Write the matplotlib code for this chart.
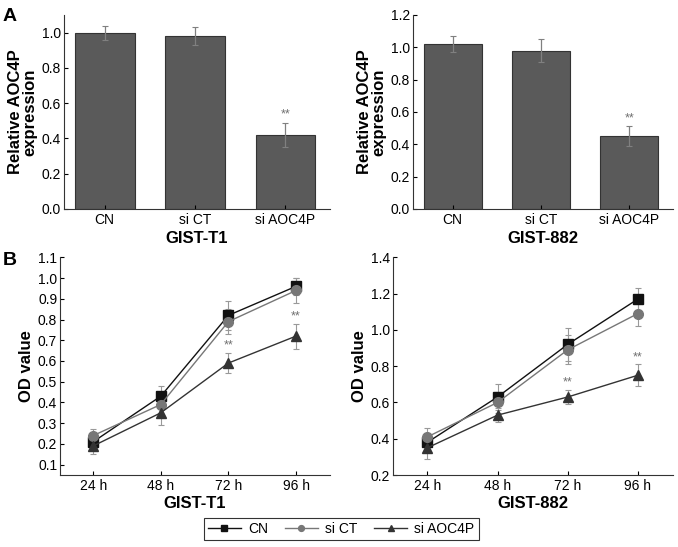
import numpy as np
import matplotlib
matplotlib.use('Agg')
import matplotlib.pyplot as plt

plt.rcParams['font.family'] = ['Liberation Sans', 'DejaVu Sans']

# panel A data
groups = ['CN', 'si CT', 'si AOC4P']
t1_expr = [1.00, 0.98, 0.42]
t1_expr_err = [0.04, 0.05, 0.07]
g882_expr = [1.02, 0.98, 0.45]
g882_expr_err = [0.05, 0.07, 0.06]

# panel B data
times = ['24 h', '48 h', '72 h', '96 h']
series_names = ['CN', 'si CT', 'si AOC4P']
t1_cn = [0.21, 0.43, 0.82, 0.96]
t1_cn_err = [0.03, 0.05, 0.07, 0.04]
t1_ct = [0.24, 0.39, 0.79, 0.94]
t1_ct_err = [0.03, 0.05, 0.06, 0.06]
t1_si = [0.19, 0.35, 0.59, 0.72]
t1_si_err = [0.04, 0.06, 0.05, 0.06]
g882_cn = [0.38, 0.63, 0.92, 1.17]
g882_cn_err = [0.05, 0.07, 0.09, 0.06]
g882_ct = [0.41, 0.60, 0.89, 1.09]
g882_ct_err = [0.05, 0.06, 0.08, 0.07]
g882_si = [0.35, 0.53, 0.63, 0.75]
g882_si_err = [0.06, 0.04, 0.04, 0.06]

fig = plt.figure(figsize=(6.78, 5.47), dpi=100)


def style(ax):
    ax.spines['top'].set_visible(False)
    ax.spines['right'].set_visible(False)
    ax.tick_params(labelsize=10, length=3, width=0.8, direction='in')
    ax.tick_params(axis='x', pad=3)
    ax.tick_params(axis='y', pad=2)
    for s in ['left', 'bottom']:
        ax.spines[s].set_linewidth(0.8)
        ax.spines[s].set_color('#333333')


def bar_panel(ax, vals, errs, ymax, yticks, title):
    x = np.arange(len(groups))
    ax.bar(x, vals, width=0.66, color='#5a5a5a', edgecolor='#333333', linewidth=0.8)
    ax.errorbar(x, vals, yerr=errs, fmt='none', ecolor='#808080', elinewidth=0.9,
                capsize=2.5, capthick=0.8)
    ax.text(x[2], vals[2] + errs[2] + 0.01, '**', ha='center', va='bottom',
            fontsize=9, color='#707070')
    ax.set_xlim(-0.45, 2.49)
    ax.set_ylim(0, ymax)
    ax.set_yticks(yticks)
    ax.set_yticklabels(['%.1f' % v for v in yticks])
    ax.set_xticks(x)
    ax.set_xticklabels(groups)
    ax.set_ylabel('Relative AOC4P\nexpression', fontsize=12, fontweight='bold',
                  labelpad=3, linespacing=1.0)
    ax.set_xlabel(title, fontsize=12, fontweight='bold', labelpad=3)
    style(ax)


def line_panel(ax, series, ylim, yticks, title):
    x = np.arange(len(times))
    specs = [('s', '#111111'), ('o', '#777777'), ('^', '#333333')]
    handles = []
    for (vals, errs), lab, (mk, col) in zip(series, series_names, specs):
        h = ax.errorbar(x, vals, yerr=errs, color=col, marker=mk, markersize=7,
                        linewidth=1.0, ecolor='#999999', elinewidth=0.8, capsize=2,
                        capthick=0.8)
        handles.append(h.lines[0])
    si_vals, si_errs = series[2]
    for i in [2, 3]:
        ax.text(x[i], si_vals[i] + si_errs[i] + 0.005, '**', ha='center', va='bottom',
                fontsize=9, color='#707070')
    ax.set_xlim(-0.49, 3.5)
    ax.set_ylim(*ylim)
    ax.set_yticks(yticks)
    ax.set_yticklabels(['%.1f' % v for v in yticks])
    ax.set_xticks(x)
    ax.set_xticklabels(times)
    ax.set_ylabel('OD value', fontsize=12, fontweight='bold', labelpad=3)
    ax.set_xlabel(title, fontsize=12, fontweight='bold', labelpad=2)
    style(ax)
    return handles


ax1 = fig.add_axes([0.0944, 0.618, 0.392, 0.3547])
bar_panel(ax1, t1_expr, t1_expr_err, 1.1, np.arange(0, 1.01, 0.2), 'GIST-T1')

ax2 = fig.add_axes([0.609, 0.618, 0.383, 0.3547])
bar_panel(ax2, g882_expr, g882_expr_err, 1.2, np.arange(0, 1.21, 0.2), 'GIST-882')

ax3 = fig.add_axes([0.0885, 0.1316, 0.398, 0.398])
handles = line_panel(ax3, [(t1_cn, t1_cn_err), (t1_ct, t1_ct_err), (t1_si, t1_si_err)],
                     (0.05, 1.1), np.arange(0.1, 1.11, 0.1), 'GIST-T1')

ax4 = fig.add_axes([0.5796, 0.1316, 0.413, 0.398])
line_panel(ax4, [(g882_cn, g882_cn_err), (g882_ct, g882_ct_err), (g882_si, g882_si_err)],
           (0.2, 1.4), np.arange(0.2, 1.41, 0.2), 'GIST-882')

leg = fig.legend(handles, series_names, loc='lower center', bbox_to_anchor=(0.503, 0.0),
                 ncol=3, fontsize=10, frameon=True, fancybox=False, edgecolor='black',
                 handlelength=2.4, columnspacing=1.2, borderpad=0.3, markerscale=0.6,
                 handletextpad=0.5)
leg.get_frame().set_linewidth(0.8)

fig.text(0.004, 0.97, 'A', fontsize=14, fontweight='bold', va='center')
fig.text(0.004, 0.523, 'B', fontsize=14, fontweight='bold', va='center')

plt.savefig('out.png', dpi=100)
